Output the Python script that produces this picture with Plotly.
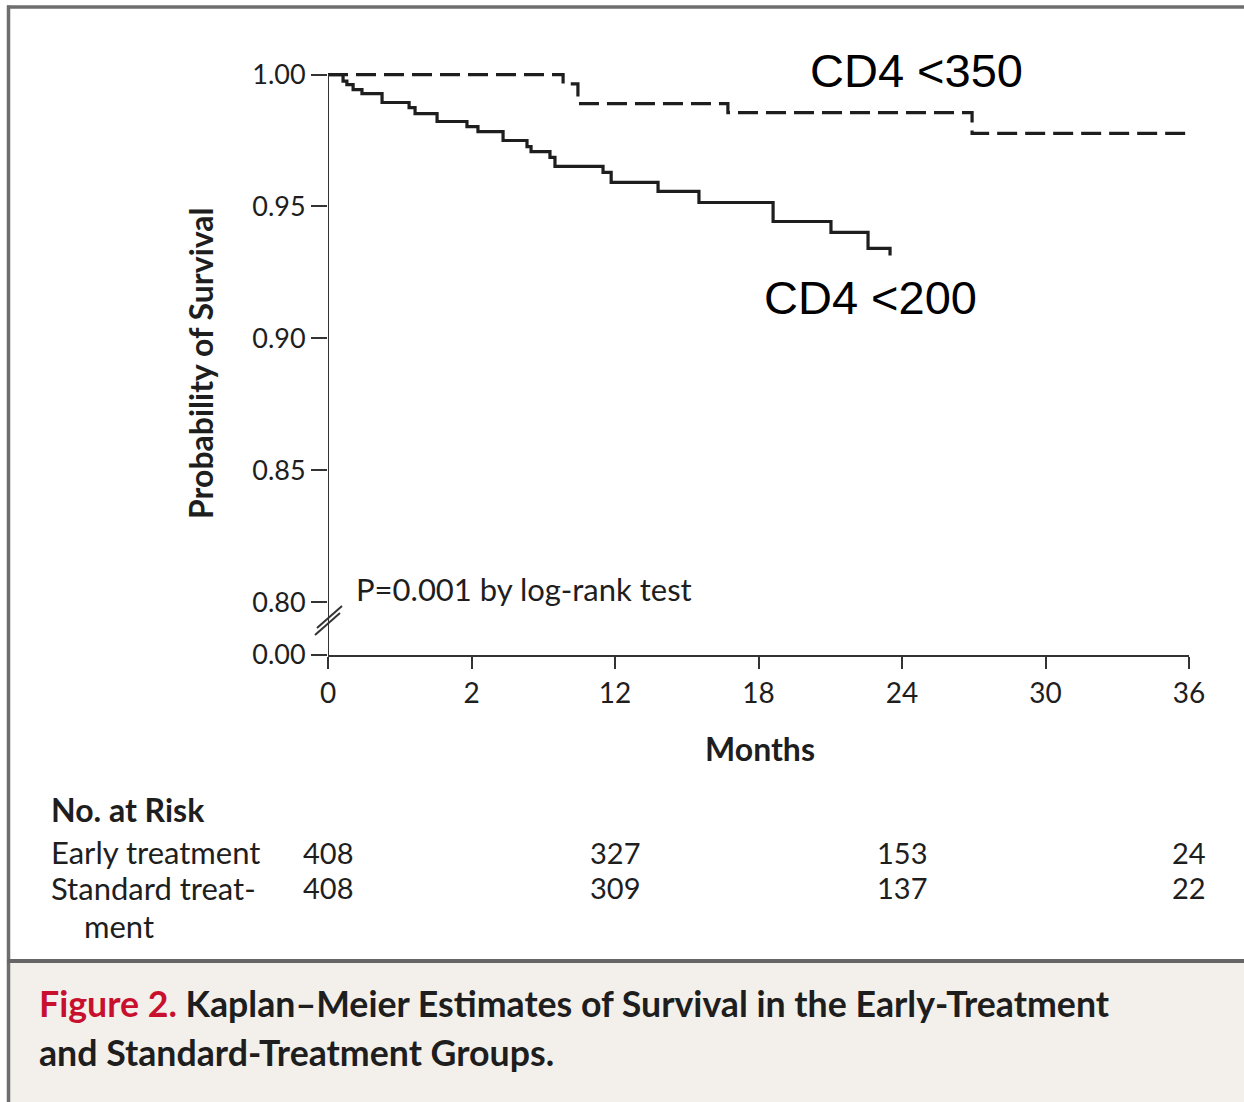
import plotly.graph_objects as go

# ---------------- data ----------------
months_cd4_200 = [0, 0.63, 0.79, 1.05, 1.42, 2.26, 3.39, 3.64, 4.56, 5.81, 6.27, 7.32,
                  8.32, 8.49, 9.28, 9.49, 11.50, 11.84, 13.80, 15.51, 18.61, 21.03,
                  22.58, 23.50]
surv_cd4_200 = [1.0, 0.9975, 0.9962, 0.9943, 0.9928, 0.9894, 0.9875, 0.9852, 0.9822,
                0.9803, 0.9784, 0.9750, 0.9727, 0.9708, 0.9686, 0.9652, 0.9629, 0.9591,
                0.9557, 0.9515, 0.9443, 0.9402, 0.9341, 0.9314]

months_cd4_350 = [0, 9.83, 10.45, 16.72, 26.93, 36.0]
surv_cd4_350 = [1.0, 0.9965, 0.989, 0.9856, 0.9777, 0.9777]

x_tickvals = [0, 6, 12, 18, 24, 30, 36]
x_ticktext = ["0", "2", "12", "18", "24", "30", "36"]
y_tickvals = [0.78, 0.80, 0.85, 0.90, 0.95, 1.00]
y_ticktext = ["0.00", "0.80", "0.85", "0.90", "0.95", "1.00"]

risk_months = [0, 12, 24, 36]
risk_early = [408, 327, 153, 24]
risk_standard = [408, 309, 137, 22]

# ---------------- layout geometry ----------------
W, H = 1244, 1102
ML, MR, MT, MB = 328, 55, 64, 447
PW = W - ML - MR
PH = H - MT - MB
Y_MIN, Y_MAX = 0.78, 1.004


def px(x):
    return (x - ML) / PW


def py(y):
    return (H - MB - y) / PH


INK = "#1e1e1e"
FONT = "Lato"

fig = go.Figure()

fig.add_trace(go.Scatter(
    x=months_cd4_350, y=surv_cd4_350, mode="lines", line_shape="hv",
    line=dict(color=INK, width=3.2, dash="20px,8px"), name="CD4 <350",
    hoverinfo="skip"))
fig.add_trace(go.Scatter(
    x=months_cd4_200, y=surv_cd4_200, mode="lines", line_shape="hv",
    line=dict(color=INK, width=3.2), name="CD4 <200", hoverinfo="skip"))

shapes = []
# background beige caption area
shapes.append(dict(type="rect", xref="paper", yref="paper",
                   x0=px(9), x1=px(W + 5), y0=py(961), y1=py(H + 5),
                   fillcolor="#f3f0eb", line=dict(width=0), layer="below"))
# outer frame top and left
shapes.append(dict(type="line", xref="paper", yref="paper",
                   x0=px(7), x1=px(W + 5), y0=py(7), y1=py(7),
                   line=dict(color="#6e6e6e", width=3.5)))
shapes.append(dict(type="line", xref="paper", yref="paper",
                   x0=px(8.5), x1=px(8.5), y0=py(5.5), y1=py(H + 5),
                   line=dict(color="#6e6e6e", width=3.5)))
# caption separator
shapes.append(dict(type="line", xref="paper", yref="paper",
                   x0=px(7), x1=px(W + 5), y0=py(961), y1=py(961),
                   line=dict(color="#666666", width=4)))
# y axis line
shapes.append(dict(type="line", xref="x", yref="y", x0=0, x1=0, y0=0.78, y1=1.0,
                   line=dict(color="#333333", width=2)))
# axis break marks
shapes.append(dict(type="line", xref="paper", yref="paper",
                   x0=px(315), x1=px(340), y0=py(635), y1=py(613),
                   line=dict(color="#333333", width=2)))
shapes.append(dict(type="line", xref="paper", yref="paper",
                   x0=px(317), x1=px(342), y0=py(628), y1=py(606),
                   line=dict(color="#333333", width=2)))

annotations = []


def ann(text, x, y, size, xanchor="left", yanchor="middle", color=INK,
        family=FONT, weight=None, angle=0, xref="paper"):
    f = dict(family=family, size=size, color=color)
    if weight:
        f["weight"] = weight
    annotations.append(dict(text=text, x=x, y=y, xref=xref, yref="paper",
                            xanchor=xanchor, yanchor=yanchor, showarrow=False,
                            font=f, textangle=angle))


ann("CD4 &lt;350", px(808), py(70), 47, family="Arial", color="#000000")
ann("CD4 &lt;200", px(762), py(297), 47, family="Arial", color="#000000")
ann("P=0.001 by log-rank test", px(354), py(589), 31)
ann("Probability of Survival", px(200), py(363), 32, xanchor="center",
    yanchor="middle", weight=700, angle=-90)
ann("Months", px(760), py(748), 32, xanchor="center", weight=700)
ann("No. at Risk", px(49), py(809), 32, weight=700)
ann("Early treatment", px(49), py(852), 31)
ann("Standard treat-", px(49), py(888), 31)
ann("ment", px(82), py(926), 31)
for m, a, b in zip(risk_months, risk_early, risk_standard):
    ann(str(a), m, py(852), 29, xanchor="center", xref="x")
    ann(str(b), m, py(888), 29, xanchor="center", xref="x")

ann("<span style='color:#c8102e'>Figure 2.</span> Kaplan–Meier Estimates of Survival in the Early-Treatment",
    px(37), py(1003), 35.7, weight=700)
ann("and Standard-Treatment Groups.", px(37), py(1052), 35.7, weight=700)

fig.update_layout(
    width=W, height=H,
    margin=dict(l=ML, r=MR, t=MT, b=MB, pad=0),
    paper_bgcolor="white", plot_bgcolor="rgba(0,0,0,0)",
    showlegend=False,
    shapes=shapes, annotations=annotations,
    font=dict(family=FONT, color=INK),
    xaxis=dict(range=[0, 36], tickvals=x_tickvals, ticktext=x_ticktext,
               showgrid=False, zeroline=False, showline=True,
               linecolor="#333333", linewidth=2,
               ticks="outside", ticklen=12, tickwidth=2, tickcolor="#333333",
               tickfont=dict(family=FONT, size=28, color=INK)),
    yaxis=dict(range=[Y_MIN, Y_MAX], tickvals=y_tickvals, ticktext=y_ticktext,
               showgrid=False, zeroline=False, showline=False,
               ticks="outside", ticklen=16, tickwidth=2, tickcolor="#333333",
               tickfont=dict(family=FONT, size=27, color=INK)),
)

fig.write_html("out.html",
               config={"displayModeBar": False},
               post_script="document.body.style.margin='0';document.body.style.overflow='hidden';")
